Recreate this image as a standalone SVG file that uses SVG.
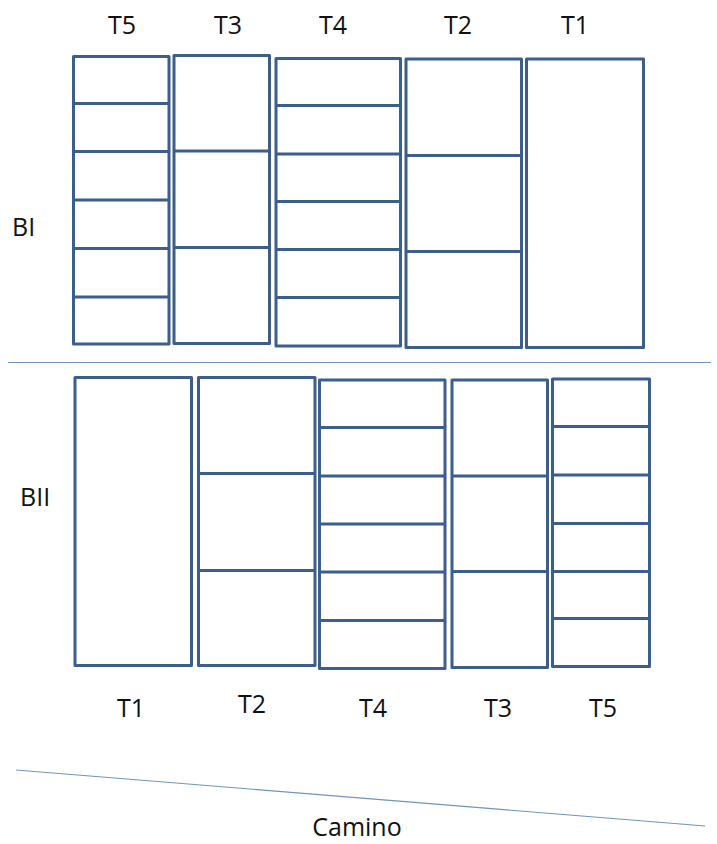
<svg xmlns="http://www.w3.org/2000/svg" width="717" height="844" viewBox="0 0 717 844">
<style>
.box{fill:#fff;stroke:#3b5e8c;stroke-width:3;stroke-linejoin:round}
.div{stroke:#3b5e8c;stroke-width:3}
.lbl{font-family:"Open Sans","Liberation Sans",sans-serif;font-size:25px;fill:#111;text-anchor:middle}
.lbl2{font-family:"Open Sans","Liberation Sans",sans-serif;font-size:25px;fill:#111}
.thin{stroke:#6f95c0;stroke-width:1.2;fill:none}
</style>
<rect width="717" height="844" fill="#fff"/>
<g id="guides">
<line class="thin" x1="8" y1="362.5" x2="711" y2="362.5"/>
<line class="thin" x1="16" y1="770" x2="705" y2="826"/>
</g>
<g id="labels">
<text class="lbl" x="122" y="34">T5</text>
<text class="lbl" x="228" y="34">T3</text>
<text class="lbl" x="333" y="34">T4</text>
<text class="lbl" x="458" y="34">T2</text>
<text class="lbl" x="575" y="34">T1</text>
<text class="lbl2" x="12" y="236">BI</text>
<text class="lbl2" x="20" y="506">BII</text>
<text class="lbl" x="131" y="717">T1</text>
<text class="lbl" x="252" y="713">T2</text>
<text class="lbl" x="373" y="717">T4</text>
<text class="lbl" x="498" y="717">T3</text>
<text class="lbl" x="603" y="717">T5</text>
<text class="lbl" x="357" y="836">Camino</text>
</g>
<g id="BI-T5">
<rect class="box" x="73.5" y="56.5" width="95.5" height="287.5"/>
<line class="div" x1="73.5" y1="103.5" x2="169" y2="103.5"/>
<line class="div" x1="73.5" y1="151.5" x2="169" y2="151.5"/>
<line class="div" x1="73.5" y1="200" x2="169" y2="200"/>
<line class="div" x1="73.5" y1="248.5" x2="169" y2="248.5"/>
<line class="div" x1="73.5" y1="297" x2="169" y2="297"/>
</g>
<g id="BI-T3">
<rect class="box" x="174" y="55.5" width="95.5" height="288"/>
<line class="div" x1="174" y1="151" x2="269.5" y2="151"/>
<line class="div" x1="174" y1="247.5" x2="269.5" y2="247.5"/>
</g>
<g id="BI-T4">
<rect class="box" x="276" y="58.5" width="124.5" height="287.5"/>
<line class="div" x1="276" y1="105.5" x2="400.5" y2="105.5"/>
<line class="div" x1="276" y1="154" x2="400.5" y2="154"/>
<line class="div" x1="276" y1="201.5" x2="400.5" y2="201.5"/>
<line class="div" x1="276" y1="249.5" x2="400.5" y2="249.5"/>
<line class="div" x1="276" y1="297.5" x2="400.5" y2="297.5"/>
</g>
<g id="BI-T2">
<rect class="box" x="406" y="59" width="115.5" height="288.5"/>
<line class="div" x1="406" y1="155.5" x2="521.5" y2="155.5"/>
<line class="div" x1="406" y1="251.5" x2="521.5" y2="251.5"/>
</g>
<g id="BI-T1">
<rect class="box" x="526.5" y="59" width="117" height="288.5"/>
</g>
<g id="BII-T1">
<rect class="box" x="75" y="377.5" width="116.5" height="288"/>
</g>
<g id="BII-T2">
<rect class="box" x="198.5" y="377.5" width="116.5" height="288"/>
<line class="div" x1="198.5" y1="473.5" x2="315" y2="473.5"/>
<line class="div" x1="198.5" y1="570.5" x2="315" y2="570.5"/>
</g>
<g id="BII-T4">
<rect class="box" x="319.5" y="380" width="125.5" height="288.5"/>
<line class="div" x1="319.5" y1="427.5" x2="445" y2="427.5"/>
<line class="div" x1="319.5" y1="476" x2="445" y2="476"/>
<line class="div" x1="319.5" y1="524" x2="445" y2="524"/>
<line class="div" x1="319.5" y1="572" x2="445" y2="572"/>
<line class="div" x1="319.5" y1="620.5" x2="445" y2="620.5"/>
</g>
<g id="BII-T3">
<rect class="box" x="452" y="380" width="95.5" height="287.5"/>
<line class="div" x1="452" y1="476" x2="547.5" y2="476"/>
<line class="div" x1="452" y1="571.5" x2="547.5" y2="571.5"/>
</g>
<g id="BII-T5">
<rect class="box" x="552.5" y="379" width="97" height="287.5"/>
<line class="div" x1="552.5" y1="426.5" x2="649.5" y2="426.5"/>
<line class="div" x1="552.5" y1="475" x2="649.5" y2="475"/>
<line class="div" x1="552.5" y1="523.5" x2="649.5" y2="523.5"/>
<line class="div" x1="552.5" y1="571.5" x2="649.5" y2="571.5"/>
<line class="div" x1="552.5" y1="618.5" x2="649.5" y2="618.5"/>
</g>
</svg>
